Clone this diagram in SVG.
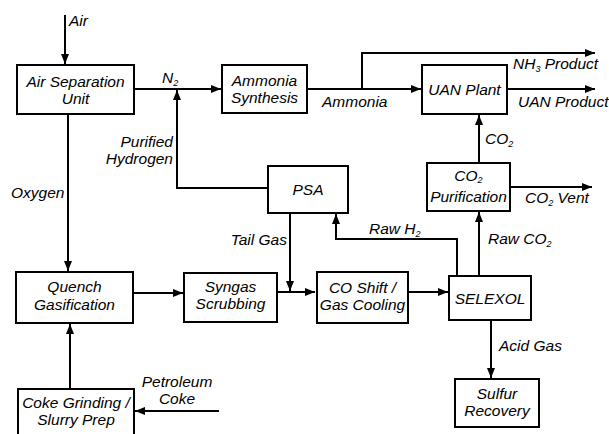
<svg xmlns="http://www.w3.org/2000/svg" width="609" height="434" viewBox="0 0 609 434">
<defs>
<marker id="ah" viewBox="0 0 10 8" refX="10" refY="4" markerWidth="10" markerHeight="8" markerUnits="userSpaceOnUse" orient="auto">
<path d="M0,0 L10,4 L0,8 Z" fill="#000"/>
</marker>
<style>
.box{fill:#fff;stroke:#000;stroke-width:2}
.ln{fill:none;stroke:#000;stroke-width:2}
.ar{fill:none;stroke:#000;stroke-width:2;marker-end:url(#ah)}
text{font-family:"Liberation Sans",Arial,sans-serif;font-style:italic;font-size:15.5px;fill:#000}
.c{text-anchor:middle}
.r{text-anchor:end}
.sub{font-size:9px}
</style>
</defs>
<rect width="609" height="434" fill="#fff"/>
<g id="connectors">
<path class="ar" d="M65,15 V64"/>
<path class="ar" d="M134,89 H221"/>
<path class="ar" d="M268,188 H177 V90"/>
<path class="ar" d="M68,114 V271"/>
<path class="ar" d="M307,89 H421"/>
<path class="ar" d="M362,89 V53 H595"/>
<path class="ar" d="M507,89 H595"/>
<path class="ar" d="M479,163 V115"/>
<path class="ar" d="M510,187 H592"/>
<path class="ar" d="M133,293 H183"/>
<path class="ar" d="M290,213 V291"/>
<path class="ar" d="M277,292 H315"/>
<path class="ar" d="M70,389 V324"/>
<path class="ar" d="M219,411 H135"/>
<path class="ar" d="M408,292 H448"/>
<path class="ar" d="M457,276 V239 H336 V214"/>
<path class="ar" d="M479,276 V212"/>
<path class="ar" d="M491,320 V378"/>
</g>
<g id="labels">
<text x="69" y="26">Air</text>
<text x="162" y="83">N<tspan class="sub" dy="3">2</tspan></text>
<text class="r" x="173" y="147">Purified</text>
<text class="r" x="173" y="164">Hydrogen</text>
<text x="11" y="198">Oxygen</text>
<text x="322" y="107">Ammonia</text>
<text x="513" y="69">NH<tspan class="sub" dy="3">3</tspan><tspan dy="-3"> Product</tspan></text>
<text x="518" y="107">UAN Product</text>
<text x="485" y="144">CO<tspan class="sub" dy="3">2</tspan></text>
<text x="525" y="203">CO<tspan class="sub" dy="3">2</tspan><tspan dy="-3"> Vent</tspan></text>
<text class="r" x="287" y="245">Tail Gas</text>
<text x="369" y="234">Raw H<tspan class="sub" dy="3">2</tspan></text>
<text x="488" y="244">Raw CO<tspan class="sub" dy="3">2</tspan></text>
<text x="499" y="351">Acid Gas</text>
<text class="c" x="177" y="387">Petroleum</text>
<text class="c" x="177" y="404">Coke</text>
</g>
<g id="asu"><rect class="box" x="17" y="65" width="117" height="49"/><text class="c" x="75.5" y="87">Air Separation</text><text class="c" x="75.5" y="104">Unit</text></g>
<g id="ammonia-synthesis"><rect class="box" x="222" y="65" width="85" height="48"/><text class="c" x="264.5" y="86">Ammonia</text><text class="c" x="264.5" y="103">Synthesis</text></g>
<g id="uan-plant"><rect class="box" x="422" y="65" width="85" height="49"/><text class="c" x="464.5" y="95">UAN Plant</text></g>
<g id="co2-purification"><rect class="box" x="427" y="163" width="83" height="48"/><text class="c" x="468.5" y="181">CO<tspan class="sub" dy="2">2</tspan></text><text class="c" x="468.5" y="202">Purification</text></g>
<g id="psa"><rect class="box" x="268" y="166" width="80" height="47"/><text class="c" x="308" y="195">PSA</text></g>
<g id="quench"><rect class="box" x="16" y="272" width="117" height="51"/><text class="c" x="74.5" y="292">Quench</text><text class="c" x="74.5" y="310">Gasification</text></g>
<g id="syngas-scrubbing"><rect class="box" x="184" y="273" width="93" height="49"/><text class="c" x="230.5" y="292">Syngas</text><text class="c" x="230.5" y="309">Scrubbing</text></g>
<g id="co-shift"><rect class="box" x="317" y="272" width="91" height="51"/><text class="c" x="362.5" y="293">CO Shift /</text><text class="c" x="362.5" y="310">Gas Cooling</text></g>
<g id="selexol"><rect class="box" x="449" y="276" width="82" height="44"/><text class="c" x="490" y="304">SELEXOL</text></g>
<g id="sulfur-recovery"><rect class="box" x="455" y="379" width="84" height="48"/><text class="c" x="497" y="399">Sulfur</text><text class="c" x="497" y="416">Recovery</text></g>
<g id="coke-grinding"><rect class="box" x="18" y="389" width="116" height="60"/><text class="c" x="76" y="408">Coke Grinding /</text><text class="c" x="76" y="425">Slurry Prep</text></g>
</svg>
